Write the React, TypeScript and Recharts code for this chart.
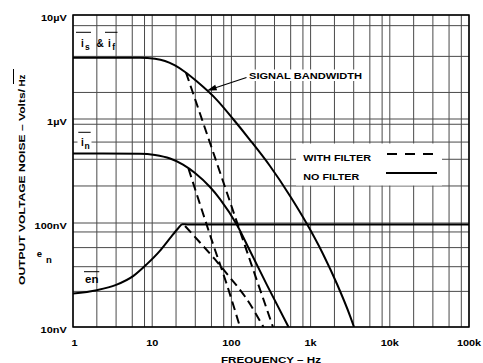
import { LineChart, Line, XAxis, YAxis, CartesianGrid, ReferenceArea } from "recharts";

const FONT = "'Liberation Sans', Arial, Helvetica, sans-serif";

// x axis: frequency in Hz (log)
const FREQ_TICKS = [1, 10, 100, 1000, 10000, 100000];
const FREQ_LABELS = ["1", "10", "100", "1k", "10k", "100k"];
const FREQ_MINOR = [2, 3.5, 5.6, 8];
const FREQ_GRID = FREQ_TICKS.flatMap((d) => (d === 100000 ? [d] : [d, ...FREQ_MINOR.map((m) => d * m)]));

// y axis: noise in nV/√Hz (log)
const NOISE_TICKS = [10, 100, 1000, 10000];
const NOISE_LABELS = ["10nV", "100nV", "1µV", "10µV"];
const NOISE_GRID = [10, 22, 38, 58, 82, 100, 227, 410, 600, 890, 1000, 1800, 4000, 7900, 10000];

// curves: [Hz, nV]
const isIfNoFilter: [number, number][] = [
  [1, 3890], [7, 3880], [10.85, 3790], [14.5, 3610], [19.4, 3270], [26, 2830],
  [36.8, 2290], [65.8, 1520], [105, 1000], [172, 628], [307, 353], [550, 182],
  [900, 97.8], [1434, 50.4], [2154, 25.9], [3145, 12.8], [3532, 10],
];
const isIfFilter: [number, number][] = [
  [26.7, 2800], [40.1, 1130], [62.1, 425], [96, 160], [172, 43.6], [335, 10],
];
const inNoFilter: [number, number][] = [
  [1, 466], [7, 464], [10.85, 451], [16.8, 417], [24.5, 365], [34.7, 303], [53.7, 222],
  [71.8, 170], [117.7, 95.7], [172, 53.8], [281.5, 25.3], [526, 10],
];
const inFilter: [number, number][] = [
  [28.7, 334], [40.1, 152], [58.6, 62.8], [85.5, 27.1], [128.4, 10],
];
const enNoFilter: [number, number][] = [
  [1, 21], [2, 22.6], [3.5, 25.4], [5.8, 31], [8.5, 40], [12.5, 54], [16.7, 71],
  [21.3, 89], [24, 97.5], [28, 97], [100000, 97],
];
const enFilter: [number, number][] = [
  [26, 93.6], [40.1, 64.9], [62.1, 44.6], [96, 29.9], [148.5, 19.65], [254, 10],
];

const rows = (pts: [number, number][]) => pts.map(([f, v]) => ({ f, v }));

function FreqTick({ x, y, payload }: any) {
  const i = FREQ_TICKS.indexOf(payload.value);
  if (i < 0) return <g />;
  return (
    <g transform={`translate(${x + (i === 0 ? 1.5 : 0)},${y + 18.5}) scale(1.15,1)`}>
      <text textAnchor="middle" fontSize={9.5} fontWeight={700} fontFamily={FONT} fill="#000">
        {FREQ_LABELS[i]}
      </text>
    </g>
  );
}

function NoiseTick({ x, y, payload }: any) {
  const i = NOISE_TICKS.indexOf(payload.value);
  if (i < 0) return <g />;
  return (
    <g transform={`translate(${x - 6.3},${y + 5.5}) scale(1.15,1)`}>
      <text textAnchor="end" fontSize={9.5} fontWeight={700} fontFamily={FONT} fill="#000">
        {NOISE_LABELS[i]}
      </text>
    </g>
  );
}

const txt = { fontFamily: FONT, fontWeight: 700, fill: "#000" } as const;

export default function App() {
  const solid = { type: "monotone" as const, dataKey: "v", stroke: "#000", strokeWidth: 2, dot: false, isAnimationActive: false };
  const dashed = { ...solid, strokeDasharray: "9 5" };

  return (
    <div style={{ position: "absolute", left: 0, top: 0, width: 483, height: 363, background: "#fff" }}>
      <LineChart width={483} height={363} margin={{ top: 15, right: 14, bottom: 6, left: 13 }}>
        <CartesianGrid stroke="#4a4a4a" strokeWidth={1} />
        <XAxis
          dataKey="f"
          type="number"
          scale="log"
          domain={[1, 100000]}
          ticks={FREQ_GRID}
          interval={0}
          allowDataOverflow
          axisLine={false}
          tickLine={false}
          tickSize={0}
          tickMargin={0}
          height={30}
          tick={<FreqTick />}
        />
        <YAxis
          type="number"
          scale="log"
          domain={[10, 10000]}
          ticks={NOISE_GRID}
          interval={0}
          allowDataOverflow
          axisLine={false}
          tickLine={false}
          tickSize={0}
          tickMargin={0}
          width={60}
          tick={<NoiseTick />}
        />
        <ReferenceArea x1={1} x2={100000} y1={10} y2={10000} fill="none" stroke="#000" strokeWidth={1.5} />
        <Line data={rows(isIfNoFilter)} {...solid} />
        <Line data={rows(isIfFilter)} {...dashed} />
        <Line data={rows(inNoFilter)} {...solid} />
        <Line data={rows(inFilter)} {...dashed} />
        <Line data={rows(enNoFilter)} {...solid} />
        <Line data={rows(enFilter)} {...dashed} />
      </LineChart>

      <svg width={483} height={363} style={{ position: "absolute", left: 0, top: 0, pointerEvents: "none" }}>
        {/* axis titles */}
        <text transform="translate(25,285) rotate(-90)" fontSize={9.5} textLength={196} lengthAdjust="spacingAndGlyphs" {...txt}>
          OUTPUT VOLTAGE NOISE – Volts/
        </text>
        <text transform="translate(25,86.5) rotate(-90)" fontSize={9.5} textLength={12} lengthAdjust="spacingAndGlyphs" {...txt}>
          Hz
        </text>
        <line x1={13.5} y1={69} x2={13.5} y2={84} stroke="#000" strokeWidth={1} />
        <text x={271} y={362.5} textAnchor="middle" fontSize={9.5} textLength={100} lengthAdjust="spacingAndGlyphs" {...txt}>
          FREQUENCY – Hz
        </text>

        {/* curve labels */}
        <line x1={76} y1={32.3} x2={91} y2={32.3} stroke="#000" strokeWidth={1} />
        <line x1={105} y1={32.3} x2={117.5} y2={32.3} stroke="#000" strokeWidth={1} />
        <text x={81} y={46.7} fontSize={10} {...txt}>i</text>
        <text x={85} y={50} fontSize={8.5} {...txt}>s</text>
        <text x={96.5} y={46.7} fontSize={10} {...txt}>&amp;</text>
        <text x={108} y={46.7} fontSize={10} {...txt}>i</text>
        <text x={112.3} y={50} fontSize={8.5} {...txt}>f</text>

        <rect x={77.5} y={135.5} width={14} height={14.5} fill="#fff" />
        <line x1={78.3} y1={132.3} x2={90.7} y2={132.3} stroke="#000" strokeWidth={1} />
        <text x={81} y={146} fontSize={10} {...txt}>i</text>
        <text x={84.5} y={149.3} fontSize={8.5} {...txt}>n</text>

        <line x1={84} y1={271.7} x2={99.3} y2={271.7} stroke="#000" strokeWidth={1} />
        <g transform="translate(85,283.3) scale(1.15,1)">
          <text fontSize={10} {...txt}>en</text>
        </g>
        <text x={36.7} y={256.7} fontSize={9.5} {...txt}>e</text>
        <text x={46} y={262.7} fontSize={9.5} {...txt}>n</text>

        {/* signal bandwidth callout */}
        <rect x={246} y={69.5} width={120} height={11.5} fill="#fff" />
        <text x={249} y={79} fontSize={9.5} textLength={113} lengthAdjust="spacingAndGlyphs" {...txt}>
          SIGNAL BANDWIDTH
        </text>
        <line x1={246.5} y1={77.5} x2={214} y2={88.3} stroke="#000" strokeWidth={1.2} />
        <polygon points="206.7,90.7 217.1,90.3 215.2,84.7" fill="#000" />

        {/* legend */}
        <rect x={296} y={143.5} width={146} height={42} fill="#fff" />
        <text x={303.3} y={160.5} fontSize={9.5} textLength={67.7} lengthAdjust="spacingAndGlyphs" {...txt}>
          WITH FILTER
        </text>
        <line x1={387} y1={154} x2={433} y2={154} stroke="#000" strokeWidth={2} strokeDasharray="10 8" />
        <text x={303.3} y={180} fontSize={9.5} textLength={56} lengthAdjust="spacingAndGlyphs" {...txt}>
          NO FILTER
        </text>
        <line x1={386} y1={173} x2={437} y2={173} stroke="#000" strokeWidth={2} />
      </svg>
    </div>
  );
}
